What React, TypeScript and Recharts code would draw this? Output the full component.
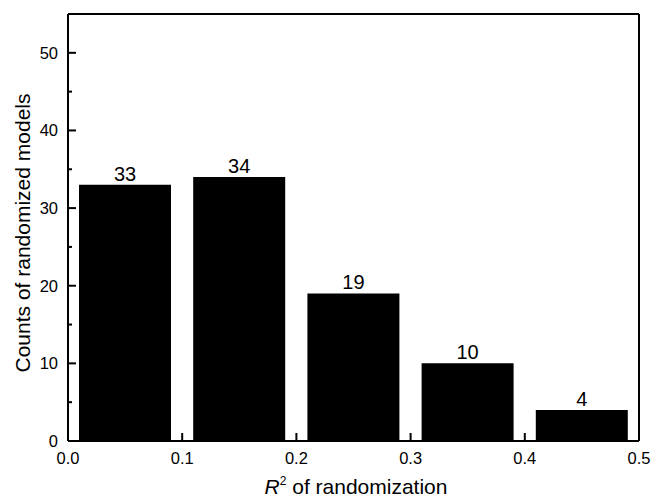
import { BarChart, Bar, XAxis, YAxis, ReferenceLine, LabelList, Label } from 'recharts';

const binCenters = [0.05, 0.15, 0.25, 0.35, 0.45];
const counts = [33, 34, 19, 10, 4];
const xTicks = [0, 0.1, 0.2, 0.3, 0.4, 0.5];
const yTicks = [0, 5, 10, 15, 20, 25, 30, 35, 40, 45, 50];

const data = binCenters.map((x, i) => ({ x, count: counts[i] }));

const FONT = '"Liberation Sans", Arial, sans-serif';

function YTick(props: any) {
  const { x, y, payload } = props;
  const major = payload.value % 10 === 0;
  const axisX = x + 10;
  return (
    <g>
      <line x1={axisX} x2={axisX + (major ? 8 : 4)} y1={y} y2={y} stroke="#000" strokeWidth={2} />
      {major && (
        <text x={x} y={y} dy="0.36em" textAnchor="end" fontSize={16.5} fontFamily={FONT} fill="#000">
          {payload.value}
        </text>
      )}
    </g>
  );
}

function XTick(props: any) {
  const { x, y, payload } = props;
  return (
    <g>
      <line x1={x} x2={x} y1={y} y2={y - 8} stroke="#000" strokeWidth={2} />
      <text x={x} y={y + 23} textAnchor="middle" fontSize={16.5} fontFamily={FONT} fill="#000">
        {payload.value.toFixed(1)}
      </text>
    </g>
  );
}

export default function App() {
  return (
    <div style={{ position: 'absolute', left: 0, top: 0, background: '#fff' }}>
      <BarChart width={654} height={503} data={data} margin={{ top: 14, right: 15, bottom: 0, left: 0 }}>
        <XAxis
          dataKey="x"
          type="number"
          domain={[0, 0.5]}
          ticks={xTicks}
          interval={0}
          height={62}
          tickSize={0}
          tickMargin={0}
          tickLine={false}
          axisLine={{ stroke: '#000', strokeWidth: 2 }}
          tick={<XTick />}
        >
          <Label
            content={() => (
              <text x={356} y={494} textAnchor="middle" fontSize={21} fontFamily={FONT} fill="#000">
                <tspan fontStyle="italic">R</tspan>
                <tspan dy={-9} fontSize={12}>2</tspan>
                <tspan dy={9}> of randomization</tspan>
              </text>
            )}
          />
        </XAxis>
        <YAxis
          type="number"
          domain={[0, 55]}
          ticks={yTicks}
          interval={0}
          width={68}
          tickSize={0}
          tickMargin={10}
          tickLine={false}
          axisLine={{ stroke: '#000', strokeWidth: 2 }}
          tick={<YTick />}
        >
          <Label
            content={() => (
              <text
                x={30}
                y={233}
                textAnchor="middle"
                fontSize={21}
                fontFamily={FONT}
                fill="#000"
                transform="rotate(-90, 30, 233)"
              >
                Counts of randomized models
              </text>
            )}
          />
        </YAxis>
        <ReferenceLine y={55} stroke="#000" strokeWidth={2} />
        <ReferenceLine x={0.5} stroke="#000" strokeWidth={2} />
        <Bar dataKey="count" fill="#000" barSize={92} isAnimationActive={false}>
          <LabelList dataKey="count" position="top" offset={4} fontSize={20} fontFamily={FONT} fill="#000" />
        </Bar>
      </BarChart>
    </div>
  );
}
